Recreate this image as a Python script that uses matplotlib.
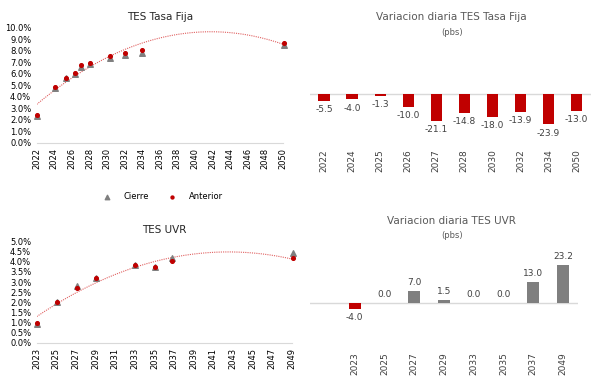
import numpy as np
import matplotlib
matplotlib.use("Agg")
import matplotlib.pyplot as plt
from matplotlib.ticker import FuncFormatter

# TES Tasa Fija
tf_years = [2022.0, 2024.1, 2025.3, 2026.3, 2027.0, 2028.1, 2030.3, 2032.1, 2034.0, 2050.1]
tf_cierre = [2.33, 4.80, 5.60, 5.95, 6.60, 6.82, 7.35, 7.65, 7.80, 8.55]
tf_anterior = [2.39, 4.84, 5.61, 6.05, 6.81, 6.97, 7.53, 7.79, 8.04, 8.68]
tf_labels = ["2022", "2024", "2025", "2026", "2027", "2028", "2030", "2032", "2034", "2050"]
tf_var = [-5.5, -4.0, -1.3, -10.0, -21.1, -14.8, -18.0, -13.9, -23.9, -13.0]

# TES UVR
uvr_years = [2023.0, 2025.1, 2027.1, 2029.0, 2033.0, 2035.1, 2036.8, 2049.1]
uvr_cierre = [0.95, 2.02, 2.80, 3.20, 3.85, 3.76, 4.19, 4.43]
uvr_anterior = [0.99, 2.02, 2.73, 3.19, 3.85, 3.76, 4.06, 4.20]
uvr_labels = ["2023", "2025", "2027", "2029", "2033", "2035", "2037", "2049"]
uvr_var = [-4.0, 0.0, 7.0, 1.5, 0.0, 0.0, 13.0, 23.2]

RED = "#C00000"
GRAY = "#7F7F7F"
TXT = "#404040"
FS = 6

plt.rcParams["font.family"] = ["DejaVu Sans"]
fig = plt.figure(figsize=(6.03, 3.85), dpi=100)

pct = FuncFormatter(lambda v, p: f"{v:.1f}%")


def scatter_panel(ax, x, cierre, anterior, xlim, ylim, ystep, title):
    ax.scatter(x, cierre, marker="^", s=16, color=GRAY, zorder=3, clip_on=False, label="Cierre")
    ax.scatter(x, anterior, marker="o", s=7, color=RED, zorder=4, clip_on=False, label="Anterior")
    coef = np.polyfit(x, anterior, 2)
    xs = np.linspace(min(x), max(x), 200)
    ax.plot(xs, np.polyval(coef, xs), color="#E06060", lw=0.8, ls=(0, (1, 1)), zorder=2)
    ax.set_xlim(*xlim)
    ax.set_ylim(*ylim)
    ax.set_yticks(np.arange(ylim[0], ylim[1] + ystep / 2, ystep))
    ax.yaxis.set_major_formatter(pct)
    for s in ["top", "right", "left"]:
        ax.spines[s].set_visible(False)
    ax.spines["bottom"].set_color("#D9D9D9")
    ax.tick_params(length=0, labelsize=FS, colors="black", pad=4)
    ax.tick_params(axis="x", rotation=90)
    ax.set_title(title, fontsize=7.5, color="#262626", pad=6)


ax1 = fig.add_axes([0.0609, 0.6294, 0.408, 0.298])
scatter_panel(ax1, tf_years, tf_cierre, tf_anterior, (2022, 2050), (0, 10), 1, "TES Tasa Fija")
ax1.set_xticks(np.arange(2022, 2051, 2))
ax1.legend(loc="upper center", bbox_to_anchor=(0.504, -0.365), ncol=2, frameon=False,
           fontsize=FS, handletextpad=1.0, columnspacing=1.8, markerscale=0.8)

ax2 = fig.add_axes([0.0609, 0.1099, 0.4229, 0.2623])
scatter_panel(ax2, uvr_years, uvr_cierre, uvr_anterior, (2023, 2049), (0, 5), 0.5, "TES UVR")
ax2.set_xticks(np.arange(2023, 2050, 2))


def bar_panel(ax, labels, vals, xlim, ylim):
    pos = np.arange(len(labels))
    cols = [RED if v < 0 else GRAY for v in vals]
    ax.bar(pos, vals, width=0.4, color=cols, zorder=2)
    ax.axhline(0, color="#D9D9D9", lw=1, zorder=1)
    for p, v in zip(pos, vals):
        if v < 0:
            ax.annotate(f"{v:.1f}", (p, v), xytext=(0, -3), textcoords="offset points",
                        ha="center", va="top", fontsize=FS + 0.5, color=TXT)
        else:
            ax.annotate(f"{v:.1f}", (p, v), xytext=(0, 3), textcoords="offset points",
                        ha="center", va="bottom", fontsize=FS + 0.5, color=TXT)
    ax.set_xlim(*xlim)
    ax.set_ylim(*ylim)
    ax.set_xticks(pos)
    ax.set_xticklabels(labels, rotation=90)
    ax.set_yticks([])
    for s in ax.spines.values():
        s.set_visible(False)
    ax.tick_params(length=0, labelsize=FS + 0.5, colors=TXT, pad=3)


ax3 = fig.add_axes([0.514, 0.624, 0.4655, 0.2127])
bar_panel(ax3, tf_labels, tf_var, (-0.5, 9.5), (-40, 25))
ax4 = fig.add_axes([0.514, 0.0966, 0.4444, 0.2216])
bar_panel(ax4, uvr_labels, uvr_var, (-1.5, 7.5), (-28, 25))

fig.text(0.749, 1 - 17.5 / 385, "Variacion diaria TES Tasa Fija", ha="center", va="center",
         fontsize=7.5, color="#595959")
fig.text(0.749, 1 - 32.5 / 385, "(pbs)", ha="center", va="center", fontsize=6, color="#595959")
fig.text(0.749, 1 - 221 / 385, "Variacion diaria TES UVR", ha="center", va="center",
         fontsize=7.5, color="#595959")
fig.text(0.749, 1 - 235 / 385, "(pbs)", ha="center", va="center", fontsize=6, color="#595959")

fig.savefig("out.png", dpi=100)
